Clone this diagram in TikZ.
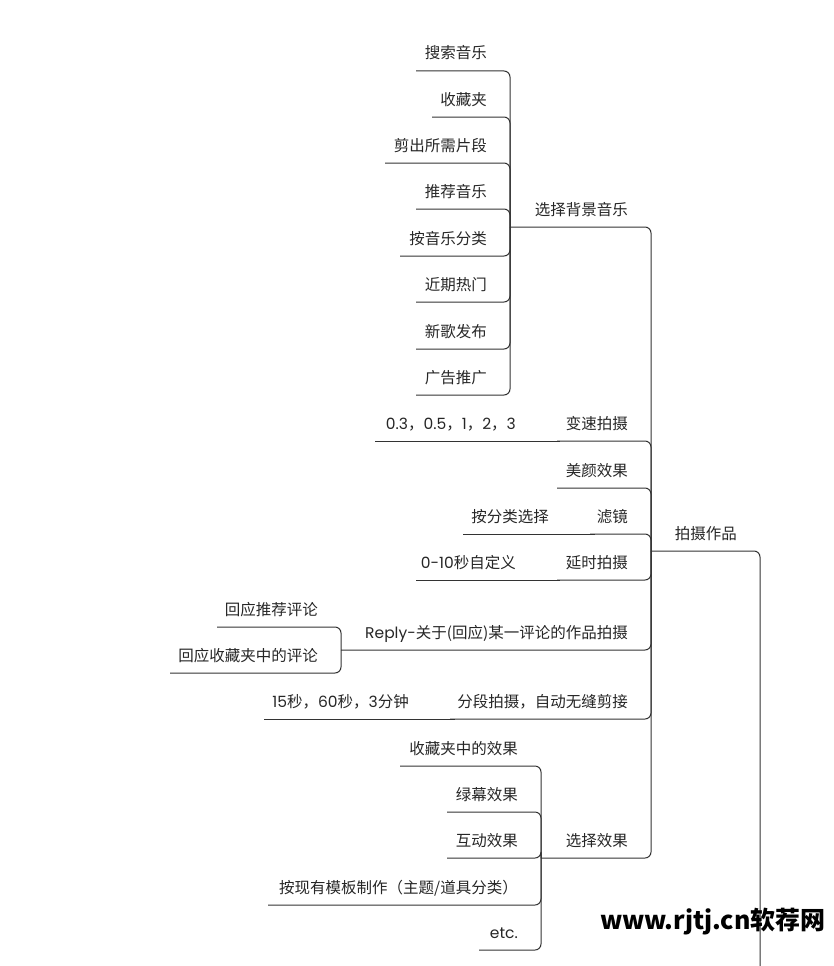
\documentclass[tikz,border=0pt]{standalone}
\usepackage{fontspec}
\setmainfont{Noto Sans CJK SC}
\newfontfamily\latf{Poppins}
\begin{document}
\begin{tikzpicture}[x=1pt,y=-1pt,
  lbl/.style={anchor=base east,inner sep=0pt,font=\fontsize{15.5}{18}\selectfont,text=black!85},
  ln/.style={draw=black!80,line width=1pt,rounded corners=6pt}]
\useasboundingbox (0,0) rectangle (834,966);
\newcommand\lab[4]{\node[lbl] (#1) at (#2-23,#3-12) {#4};}
\newcommand\labb[4]{\node[lbl] (#1) at (#2-41,#3-12) {#4};}
% main
\lab{shoot}{760}{551}{拍摄作品}
\draw[ln] (651,551) -- (760,551) -- (760,970);
% level 1
\lab{bgm}{651}{227}{选择背景音乐}
\lab{speed}{651}{441}{变速拍摄}
\lab{beauty}{651}{488}{美颜效果}
\lab{filter}{651}{534}{滤镜}
\lab{delay}{651}{580}{延时拍摄}
\lab{reply}{651}{650}{{\latf Reply-}关于(回应)某一评论的作品拍摄}
\lab{seg}{651}{719}{分段拍摄，自动无缝剪接}
\lab{fx}{651}{858}{选择效果}
\foreach \y/\l in {227/510,441/557,488/557,534/590,580/557,650/341,719/450,858/541}
  \draw[ln] (\l,\y) -- (651,\y) -- (651,551);
% bgm children
\foreach \n/\y/\l/\t in {a/71/416/搜索音乐,b/117/432/收藏夹,c/163/385/剪出所需片段,d/209/416/推荐音乐,e/256/400/按音乐分类,f/302/416/近期热门,g/349/416/新歌发布,h/395/416/广告推广}{
  \lab{m\n}{510}{\y}{\t}
  \draw[ln] (\l,\y) -- (510,\y) -- (510,227);
}
% other children
\labb{spv}{557}{441}{{\latf 0.3}，{\latf 0.5}，{\latf 1}，{\latf 2}，{\latf 3}}
\draw[ln] (375,441) -- (560,441);
\labb{flt}{590}{534}{按分类选择}
\draw[ln] (463,534) -- (595,534);
\labb{dly}{557}{580}{{\latf 0-10}秒自定义}
\draw[ln] (416,580) -- (560,580);
\labb{sgv}{450}{719}{{\latf 15}秒，{\latf 60}秒，{\latf 3}分钟}
\draw[ln] (264,719) -- (455,719);
\lab{r1}{341}{627}{回应推荐评论}
\lab{r2}{341}{673}{回应收藏夹中的评论}
\draw[ln] (217,627) -- (341,627) -- (341,650);
\draw[ln] (170,673) -- (341,673) -- (341,650);
% fx children
\foreach \n/\y/\l/\t in {a/766/400/{收藏夹中的效果},b/812/447/{绿幕效果},c/858/447/{互动效果},d/905/268/{按现有模板制作（主题/道具分类）},e/950/479/{{\latf etc.}}}{
  \lab{x\n}{541}{\y}{\t}
  \draw[ln] (\l,\y) -- (541,\y) -- (541,858);
}
\node[anchor=base east,inner sep=0pt,font=\fontsize{25}{28}\selectfont\bfseries] (wm) at (826,929) {www.rjtj.cn软荐网};
\end{tikzpicture}
\end{document}
